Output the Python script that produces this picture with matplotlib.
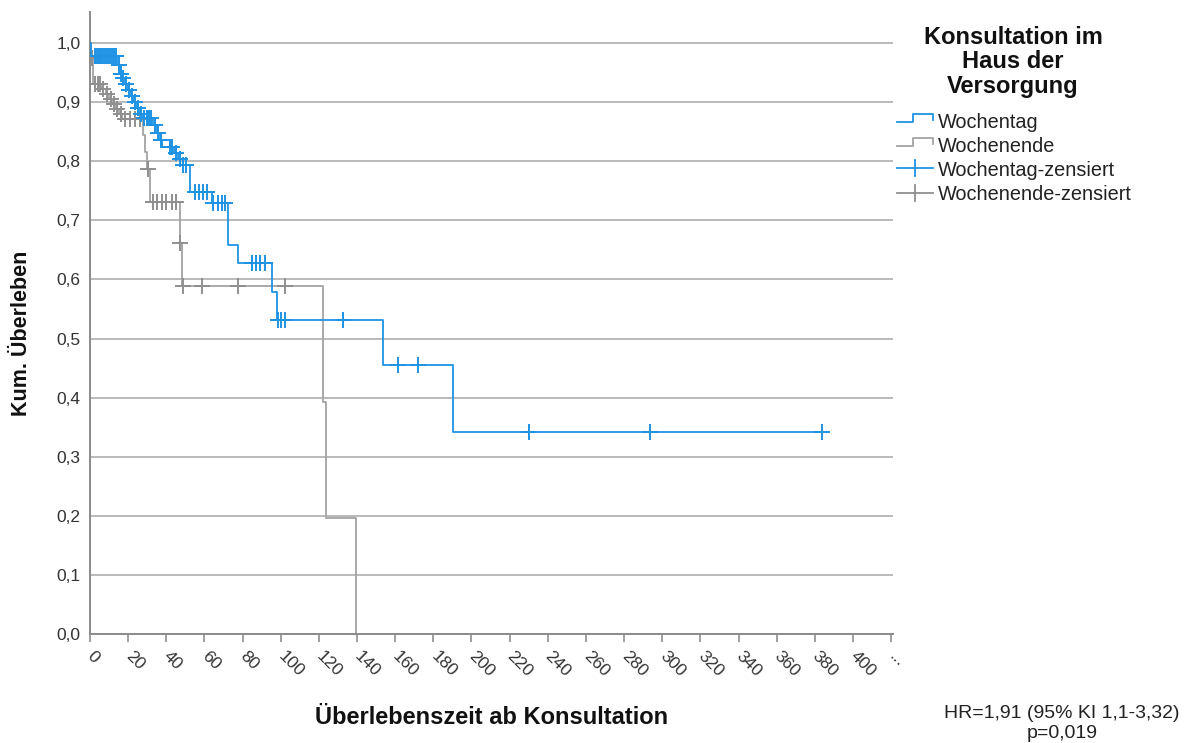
import numpy as np
import matplotlib
matplotlib.use("Agg")
import matplotlib.pyplot as plt
from matplotlib.lines import Line2D

plt.rcParams['font.family'] = ['Liberation Sans', 'DejaVu Sans']

# ---------------- data ----------------
# Wochentag (weekday): step times and survival after each step
wt_times = [0, 0.5, 14.5, 15.5, 17, 18.5, 20, 21.5, 23, 24.5, 26, 28,
            33, 35, 36.5, 38, 44, 46, 48.5, 52.4, 63.8, 72.5, 77.5,
            95.4, 98, 153.6, 190.3]
wt_surv = [1.0, 0.978, 0.962, 0.948, 0.94, 0.93, 0.92, 0.91, 0.90, 0.89, 0.88, 0.873,
           0.862, 0.848, 0.836, 0.824, 0.814, 0.803, 0.793, 0.748, 0.729, 0.658, 0.628,
           0.579, 0.531, 0.455, 0.341]
wt_censored = [2.5, 3.5, 4.5, 5.5, 6.5, 7.5, 8.5, 9.5, 10.5, 11.5, 12.5, 13.5, 15, 16, 17.5, 19, 20.5, 22,
               23.5, 25, 26.5, 28.5, 30, 31, 32, 34, 35.5, 37, 42, 43, 45, 47, 49,
               50.5, 55, 57, 59.2, 61.3, 64.5, 67, 69, 70.8, 85, 87, 89, 91.5,
               98.5, 100, 102, 132.5, 161.5, 172, 230, 293.5, 384]
wt_end = 384

# Wochenende (weekend)
we_times = [0, 0.5, 1.5, 6, 8.5, 10, 12, 13.5, 15, 17, 28, 29, 30, 31.5,
            47, 48, 122, 123.5, 139.5]
we_surv = [1.0, 0.975, 0.93, 0.922, 0.914, 0.906, 0.897, 0.889, 0.88, 0.871,
           0.845, 0.815, 0.786, 0.731, 0.662, 0.589, 0.393, 0.196, 0.0]
we_censored = [1, 2.5, 4, 5.5, 7, 9, 11, 12.5, 14, 16, 18.5, 21, 23.5, 26,
               30.5, 33, 35, 37.5, 40, 43, 45, 47.3, 48.7, 58.7, 77.6, 102]
we_end = 139.5

x_ticks = list(range(0, 421, 20))
x_ticklabels = [str(v) for v in range(0, 401, 20)] + ['...']
y_ticks = [i / 10 for i in range(11)]
y_ticklabels = [f"{v:.1f}".replace('.', ',') for v in y_ticks]

legend_title_lines = ["Konsultation im", "Haus der", "Versorgung"]
legend_labels = ["Wochentag", "Wochenende", "Wochentag-zensiert", "Wochenende-zensiert"]
stats_lines = ["HR=1,91 (95% KI 1,1-3,32)", "p=0,019"]

BLUE = '#1e93e4'
GRAY = '#a3a3a3'
GRAY_C = '#8f8f8f'


def surv_at(times, surv, t):
    idx = np.searchsorted(np.asarray(times), np.asarray(t), side='right') - 1
    return np.asarray(surv)[idx]


fig = plt.figure(figsize=(11.89, 7.43), dpi=100)
ax = fig.add_axes([90 / 1189, 1 - 634 / 743, (893 - 90) / 1189, (634 - 12) / 743])
ax.set_xlim(0, 421)
ax.set_ylim(0, 1.0525)

for y in y_ticks[1:]:
    ax.axhline(y, color='#bababa', lw=1.4, zorder=0)

# gray curve
gx = list(we_times) + [we_end]
gy = list(we_surv) + [we_surv[-1]]
ax.step(gx, gy, where='post', color=GRAY, lw=1.3, zorder=2)
ax.plot(we_censored, surv_at(we_times, we_surv, we_censored), ls='none',
        marker='+', ms=11, mew=1.4, color=GRAY_C, zorder=3)

# blue curve
bx = list(wt_times) + [wt_end]
by = list(wt_surv) + [wt_surv[-1]]
ax.step(bx, by, where='post', color=BLUE, lw=1.3, zorder=4)
ax.plot(wt_censored, surv_at(wt_times, wt_surv, wt_censored), ls='none',
        marker='+', ms=11, mew=1.4, color=BLUE, zorder=5)

for s in ['top', 'right']:
    ax.spines[s].set_visible(False)
for s in ['left', 'bottom']:
    ax.spines[s].set_color('#8a8a8a')
    ax.spines[s].set_linewidth(1.4)

ax.set_yticks(y_ticks)
ax.set_yticklabels(y_ticklabels)
ax.tick_params(axis='y', length=0, pad=7, labelsize=12.5, labelcolor='#333333')
ax.set_xticks(x_ticks)
ax.set_xticklabels(x_ticklabels, rotation=-45, ha='left', va='center',
                   rotation_mode='anchor')
ax.tick_params(axis='x', length=6, width=1.4, color='#a0a0a0', pad=8,
               labelsize=12.5, labelcolor='#333333')

fig.text(22 / 1189, 1 - 333 / 743, "Kum. Überleben", rotation=90, ha='center',
         va='center', fontsize=15.5, fontweight='bold', color='#111111')
fig.text(492 / 1189, 1 - 717 / 743, "Überlebenszeit ab Konsultation", ha='center',
         va='center', fontsize=17, fontweight='bold', color='#111111')

# legend (manual)
for line, yy in zip(legend_title_lines, [38, 62, 86]):
    fig.text(1013 / 1189, 1 - yy / 743, line, ha='center', va='center',
             fontsize=17, fontweight='bold', color='#111111')


def px(x, y):
    return x / 1189, 1 - y / 743


rows = [122, 146, 170, 195]
for i, (lab, col) in enumerate(zip(legend_labels, [BLUE, GRAY, BLUE, GRAY_C])):
    y = rows[i]
    if i < 2:
        xs = [897, 913, 913, 933, 933]
        ys = [y, y, y - 8, y - 8, y - 2]
        X, Y = zip(*[px(a, b) for a, b in zip(xs, ys)])
        fig.add_artist(Line2D(X, Y, color=col, lw=1.3))
    else:
        X, Y = zip(*[px(897, y - 2), px(933, y - 2)])
        fig.add_artist(Line2D(X, Y, color=col, lw=1.3))
        X, Y = zip(*[px(915, y - 10), px(915, y + 6)])
        fig.add_artist(Line2D(X, Y, color=col, lw=1.3))
    fig.text(938 / 1189, 1 - y / 743, lab, ha='left', va='center', fontsize=14.3,
             color='#222222')

for line, yy in zip(stats_lines, [714, 733]):
    fig.text(1062 / 1189, 1 - yy / 743, line, ha='center', va='center',
             fontsize=14, color='#222222')

fig.savefig('out.png', dpi=100)
